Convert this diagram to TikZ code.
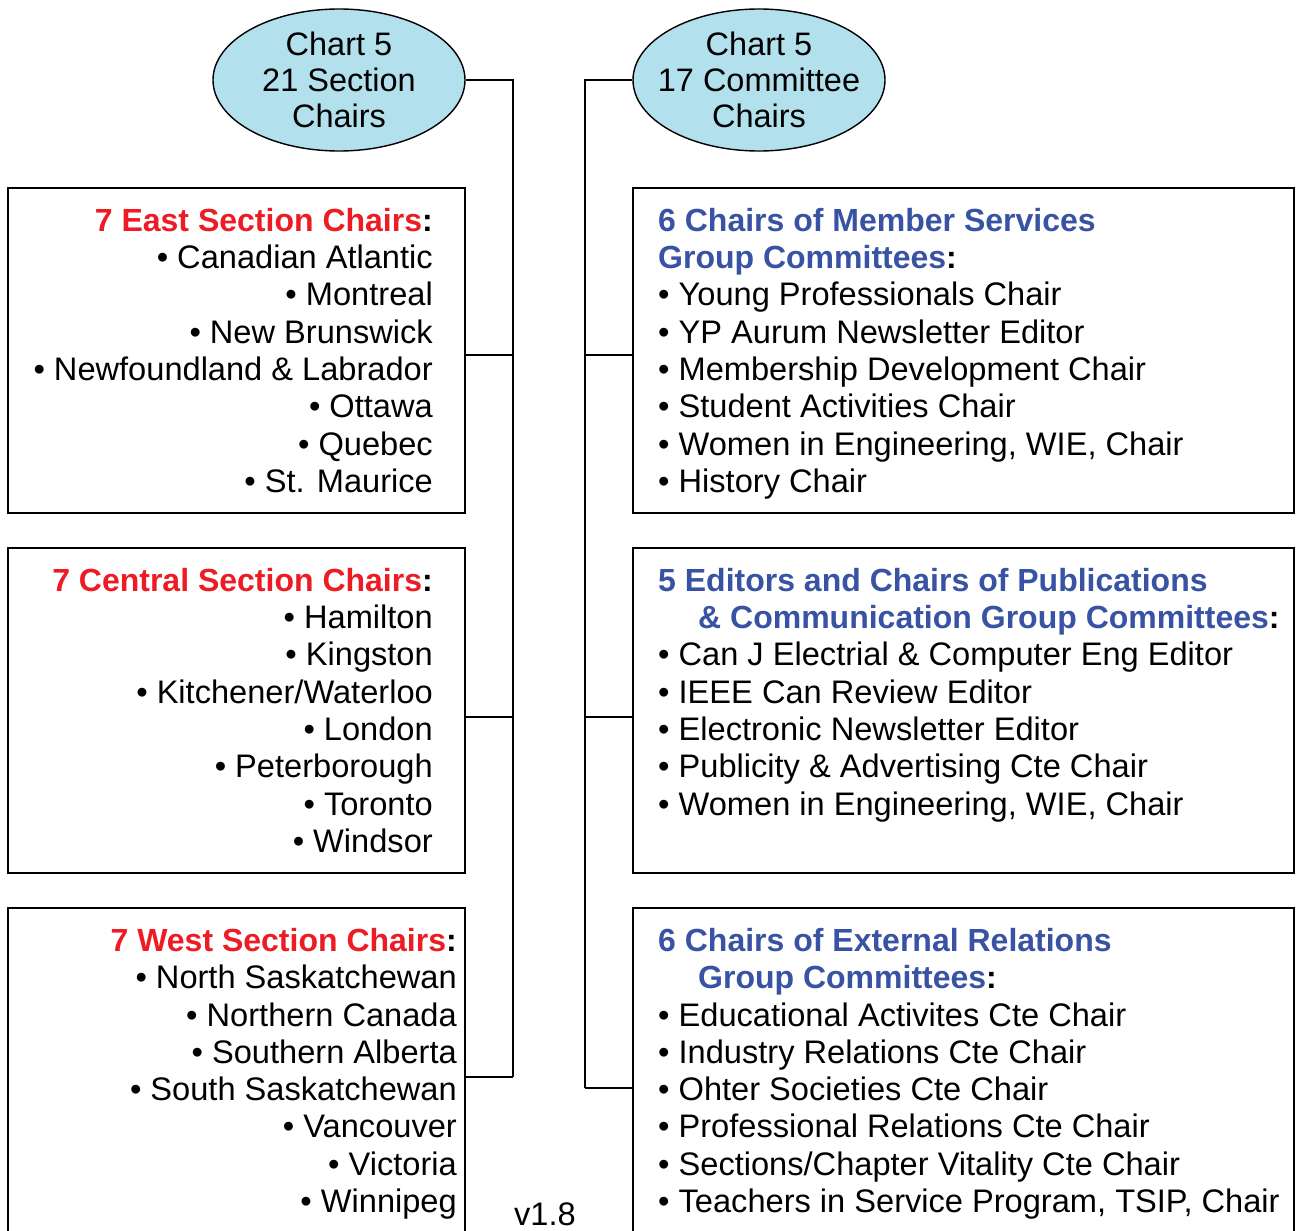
\documentclass[tikz,border=0pt]{standalone}
\usepackage{fontspec}
\setmainfont{Liberation Sans}
\usetikzlibrary{shapes.geometric}
\definecolor{hdred}{RGB}{237,28,36}
\definecolor{hdblue}{RGB}{57,83,164}
\definecolor{ellfill}{RGB}{178,224,236}
\tikzset{
  lbl/.style={font=\fontsize{32.6}{37.3}\selectfont, inner sep=0pt},
  chartell/.style={ellipse, draw, line width=1.4pt, fill=ellfill, minimum width=252pt, minimum height=142pt, inner xsep=-20pt, inner ysep=-3pt, align=center, font=\fontsize{32.5}{37.3}\selectfont},
  boxframe/.style={draw, line width=1.6pt, inner sep=0pt},
  conn/.style={line width=1.6pt},
}
\newcommand{\rh}[1]{{\fontsize{32}{37.3}\selectfont\textbf{\textcolor{hdred}{#1}}\textbf{:}}}
\newcommand{\bh}[1]{{\fontsize{32}{37.3}\selectfont\textbf{\textcolor{hdblue}{#1}}}}
\newcommand{\bcolon}{{\fontsize{32}{37.3}\selectfont\textbf{:}}}
\begin{document}
\begin{tikzpicture}[x=1pt,y=-1pt]
\useasboundingbox (0,0) rectangle (1296,1231);
\clip (0,0) rectangle (1296,1231);
\fill[white] (0,0) rectangle (1296,1231);

% ellipses
\node[chartell] (secL) at (339,80) {Chart 5\\[-1pt]21 Section\\[-1pt]Chairs};
\node[chartell] (comR) at (759,80) {Chart 5\\[-1pt]17 Committee\\[-1pt]Chairs};

% boxes
\node[boxframe, minimum width=457pt, minimum height=325pt] (east) at (236.5,350.5) {};
\node[boxframe, minimum width=457pt, minimum height=325pt] (central) at (236.5,710.5) {};
\node[boxframe, minimum width=457pt, minimum height=338pt] (west) at (236.5,1077) {};
\node[boxframe, minimum width=661pt, minimum height=325pt] (member) at (963.5,350.5) {};
\node[boxframe, minimum width=661pt, minimum height=325pt] (pubs) at (963.5,710.5) {};
\node[boxframe, minimum width=661pt, minimum height=360pt] (ext) at (963.5,1088) {};

% junction coordinates
\coordinate (tl0) at (513,80);
\coordinate (tl1) at (513,355);
\coordinate (tl2) at (513,717);
\coordinate (tl3) at (513,1077);
\coordinate (tr0) at (585,80);
\coordinate (tr1) at (585,355);
\coordinate (tr2) at (585,717);
\coordinate (tr3) at (585,1088);

% connectors
\draw[conn] (secL.east) -- (tl0) -- (tl3);
\draw[conn] (tl1) -- (tl1 -| east.east);
\draw[conn] (tl2) -- (tl2 -| central.east);
\draw[conn] (tl3) -- (tl3 -| west.east);
\draw[conn] (comR.west) -- (tr0) -- (tr3);
\draw[conn] (tr1) -- (tr1 -| member.west);
\draw[conn] (tr2) -- (tr2 -| pubs.west);
\draw[conn] (tr3) -- (tr3 -| ext.west);

% left texts
\node[lbl, anchor=north east, align=right] (eastT) at (433,208) {\rh{7 East Section Chairs}\\
• Canadian Atlantic\\• Montreal\\• New Brunswick\\• Newfoundland \& Labrador\\• Ottawa\\• Quebec\\• St. Maurice};
\node[lbl, anchor=north east, align=right] (centralT) at (433,568) {\rh{7 Central Section Chairs}\\
• Hamilton\\• Kingston\\• Kitchener/Waterloo\\• London\\• Peterborough\\• Toronto\\• Windsor};
\node[lbl, anchor=north east, align=right] (westT) at (457,928) {\rh{7 West Section Chairs}\\
• North Saskatchewan\\• Northern Canada\\• Southern Alberta\\• South Saskatchewan\\• Vancouver\\• Victoria\\• Winnipeg};

% right texts
\node[lbl, anchor=north west, align=left] (memberT) at (658,208) {\bh{6 Chairs of Member Services}\\
\bh{Group Committees}\bcolon\\
• Young Professionals Chair\\• YP Aurum Newsletter Editor\\• Membership Development Chair\\• Student Activities Chair\\• Women in Engineering, WIE, Chair\\• History Chair};
\node[lbl, anchor=north west, align=left] (pubsT) at (658,568) {\bh{5 Editors and Chairs of Publications}\\
\hspace*{40pt}\bh{\& Communication Group Committees}\bcolon\\
• Can J Electrial \& Computer Eng Editor\\• IEEE Can Review Editor\\• Electronic Newsletter Editor\\• Publicity \& Advertising Cte Chair\\• Women in Engineering, WIE, Chair};
\node[lbl, anchor=north west, align=left] (extT) at (658,928) {\bh{6 Chairs of External Relations}\\
\hspace*{40pt}\bh{Group Committees}\bcolon\\
• Educational Activites Cte Chair\\• Industry Relations Cte Chair\\• Ohter Societies Cte Chair\\• Professional Relations Cte Chair\\• Sections/Chapter Vitality Cte Chair\\• Teachers in Service Program, TSIP, Chair};

\node[lbl] (ver) at (545,1214) {v1.8};
\end{tikzpicture}
\end{document}
